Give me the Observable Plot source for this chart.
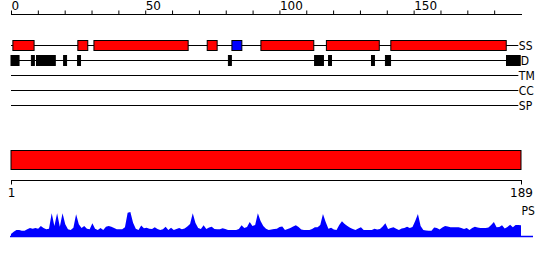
<!DOCTYPE html>
<html><head><meta charset="utf-8">
<script src="https://cdn.jsdelivr.net/npm/d3@7"></script>
<script src="https://cdn.jsdelivr.net/npm/@observablehq/plot@0.6"></script>
<style>
body{margin:0;background:#fff;}
#chart{width:550px;height:260px;overflow:hidden;}
#chart svg{display:block;}
</style></head><body><div id="chart"></div>
<script>
// ---- data ----
const seqLength = 189;
const axisMax = 190;
const trackNames = ["SS", "D", "TM", "CC", "SP"];
const minorTicks = [0, 10, 20, 30, 40, 50, 60, 70, 80, 90, 100, 110, 120, 130, 140, 150, 160, 170, 180];
const majorTicks = [0, 50, 100, 150];
const rulerTicks = [1, 189];

// secondary structure segments (H = helix, E = strand)
const ssStart = [0.7, 24.9, 30.9, 73.1, 82.3, 93.1, 117.5, 141.5];
const ssEnd   = [8.6, 28.6, 66.0, 76.8, 86.0, 112.8, 137.2, 184.5];
const ssType  = ["H", "H", "H", "H", "E", "H", "H", "H"];

// disordered segments
const disStart = [0, 7.6, 9.5, 19.6, 24.8, 81.0, 113.1, 118.3, 134.3, 139.5, 184.6];
const disEnd   = [3, 8.7, 16.5, 20.7, 25.9, 82.1, 116.4, 119.4, 135.4, 141.4, 189.7];

// domain bar
const domainStart = [1];
const domainEnd = [189];

// PS profile (per residue 1..189)
const psLabel = "PS";
const psScore = [
  8,17,24,24,21,21,27,32,29,32, 29,40,32,27,29,91,40,91,37,91,
  47,27,24,33,87,47,32,40,29,27, 51,29,24,32,24,37,40,37,32,27,
  27,27,35,93,96,53,29,24,42,31, 33,29,28,35,28,24,27,37,24,33,
  24,28,32,27,30,38,48,91,52,32, 28,43,28,34,37,28,27,27,31,28,
  24,24,24,24,28,43,32,36,56,40, 44,91,60,40,29,24,26,28,29,36,
  38,24,28,32,38,43,36,26,24,24, 24,28,35,35,44,88,56,29,33,26,
  24,44,59,48,40,33,28,24,30,35, 24,24,24,24,29,26,28,38,51,28,
  32,35,29,24,30,32,37,32,36,60, 88,40,24,22,21,21,34,32,26,34,
  40,38,35,35,35,35,32,28,32,24, 32,37,34,32,32,32,34,44,56,35,
  36,43,30,36,45,35,44,44,43
];

// ---- build ----
const ss = ssStart.map((s, i) => ({start: s, end: ssEnd[i], type: ssType[i], track: "SS"}));
const dis = disStart.map((s, i) => ({start: s, end: disEnd[i], track: "D"}));
const segs = [...ss, ...dis];
const labelData = trackNames.map(t => ({
  track: t,
  x: Math.max(seqLength, ...segs.filter(d => d.track === t).map(d => d.end))
}));
const domains = domainStart.map((s, i) => ({start: s, end: domainEnd[i]}));
const ps = psScore.map((v, i) => ({pos: i + 1, score: v}));

const baseStyle = {background: "white", color: "black", fontFamily: "DejaVu Sans, sans-serif", fontSize: "12px", overflow: "visible"};
const labelFont = "DejaVu Sans Condensed, DejaVu Sans, sans-serif";

const topPlot = Plot.plot({
  width: 550, height: 120,
  marginTop: 14, marginLeft: 11, marginRight: 29, marginBottom: 0,
  style: baseStyle,
  x: {domain: [0, axisMax]},
  y: {type: "band", domain: trackNames, range: [38, 113], padding: 0, axis: null},
  color: {domain: ["H", "E"], range: ["#ff0000", "#0000ff"]},
  marks: [
    Plot.frame({anchor: "top"}),
    Plot.axisX(minorTicks, {anchor: "top", tickSize: 4.5, fill: "none"}),
    Plot.axisX(majorTicks, {anchor: "top", tickSize: 0, tickPadding: 4.5, textAnchor: "start", dx: 0}),
    Plot.ruleY(trackNames, {y: d => d, x1: 0, x2: seqLength, stroke: "black", dy: -0.5}),
    Plot.barX(ss, {x1: "start", x2: "end", y: "track", fill: "type", stroke: "black", insetTop: 2.5, insetBottom: 2.5}),
    Plot.barX(dis, {x1: "start", x2: "end", y: "track", fill: "black", stroke: "black", insetTop: 2.5, insetBottom: 2.5}),
    Plot.text(labelData, {x: "x", y: "track", text: "track", textAnchor: "start", fontFamily: labelFont, fontSize: 12})
  ]
});

const midPlot = Plot.plot({
  width: 550, height: 84,
  marginTop: 30, marginBottom: 24, marginLeft: 11, marginRight: 29,
  style: baseStyle,
  x: {domain: [1, seqLength]},
  marks: [
    Plot.barX(domains, {x1: "start", x2: "end", fill: "#ff0000", stroke: "black", insetTop: 0.5, insetBottom: 10.5}),
    Plot.frame({anchor: "bottom"}),
    Plot.axisX(rulerTicks, {anchor: "bottom", tickSize: 4.5, tickPadding: 3})
  ]
});

const botPlot = Plot.plot({
  width: 550, height: 56,
  marginTop: 2, marginBottom: 24, marginLeft: 10, marginRight: 17,
  style: baseStyle,
  x: {domain: [1, seqLength], range: [11, 521], axis: null},
  y: {domain: [0, 100], range: [32, 7], axis: null},
  marks: [
    Plot.areaY(ps, {x: "pos", y: "score", fill: "#0000ff"}),
    Plot.ruleY([0], {stroke: "#0000ff", strokeWidth: 1.5}),
    Plot.text([{label: psLabel, pos: seqLength}], {x: "pos", text: "label", frameAnchor: "top", textAnchor: "start", lineAnchor: "top", fontFamily: labelFont, fontSize: 12})
  ]
});

const chart = document.getElementById("chart");
chart.append(topPlot, midPlot, botPlot);
</script>
</body></html>
